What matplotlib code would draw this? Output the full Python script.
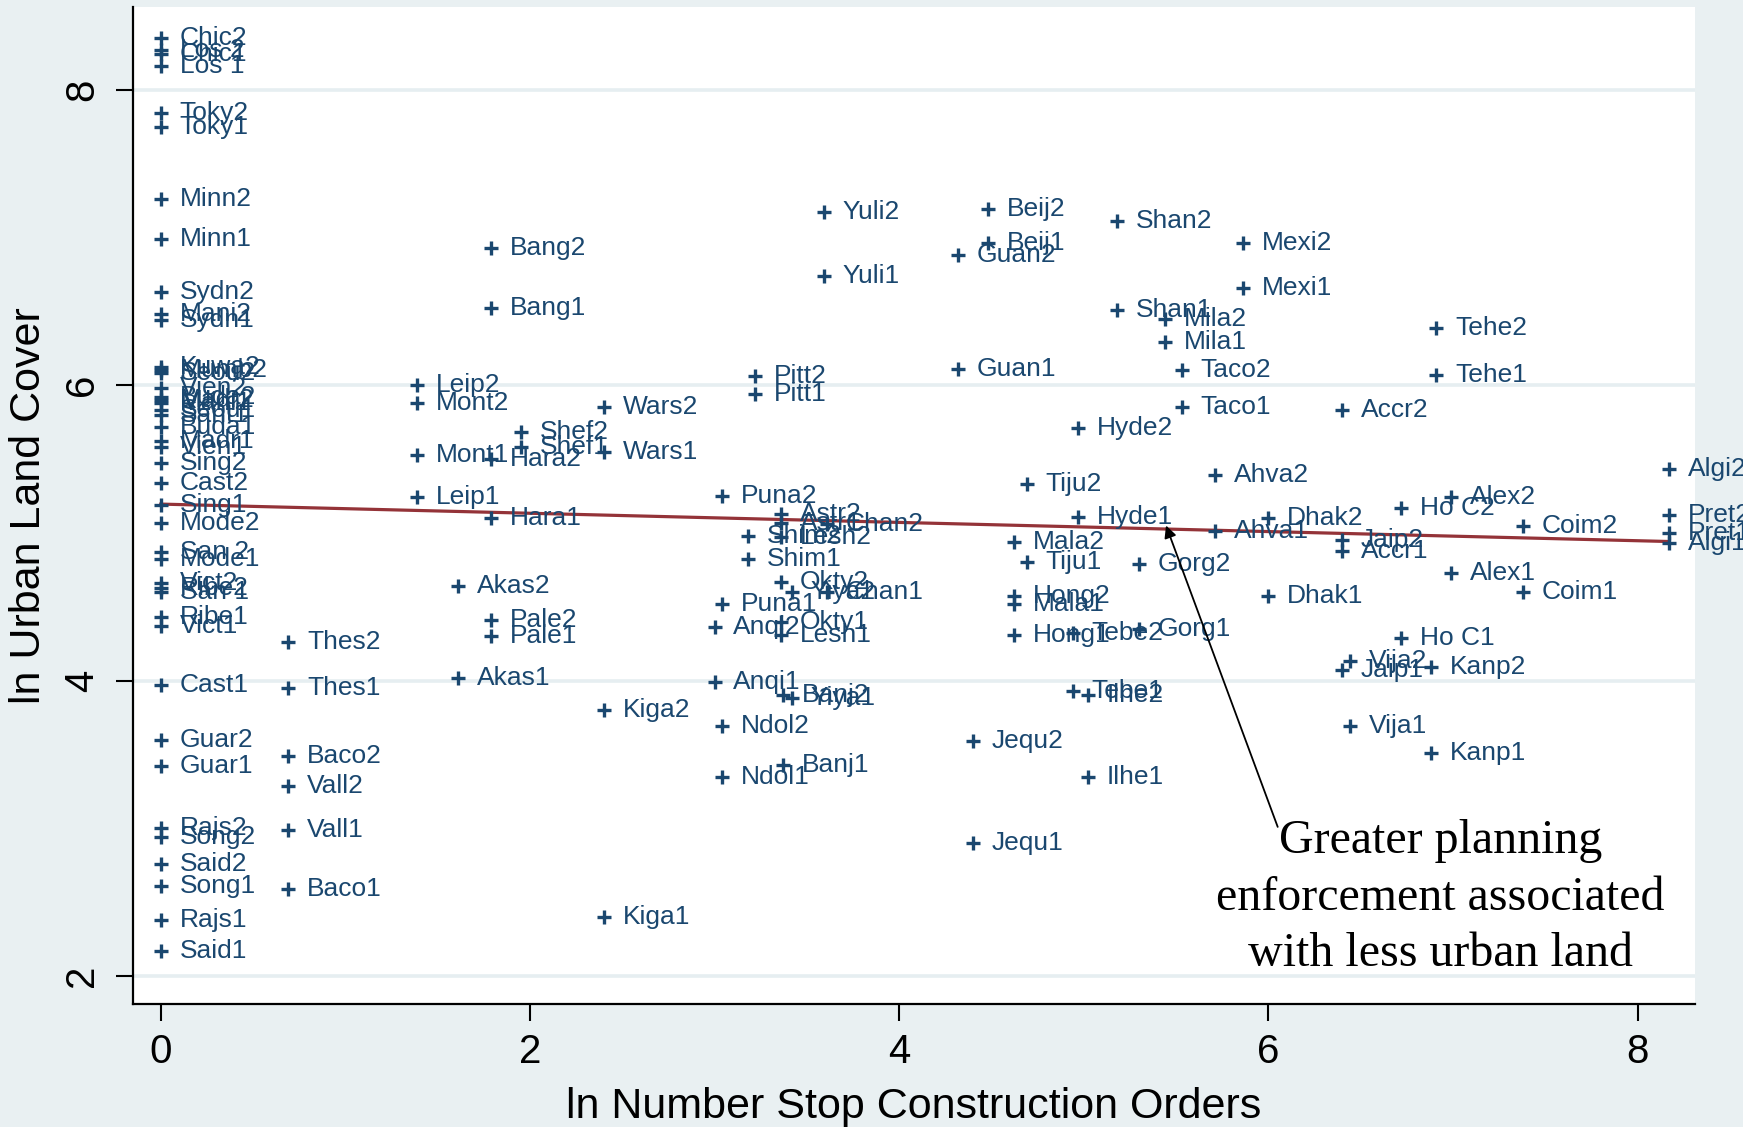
import matplotlib
matplotlib.use("Agg")
import matplotlib.pyplot as plt
from matplotlib.patches import Rectangle

# city-period labels, ln(stop construction orders), ln(urban land cover)
labels = [
    "Chic2", "Los 2", "Chic1", "Los 1", "Toky2", "Toky1", "Minn2", "Minn1",
    "Sydn2", "Mani2", "Sydn1", "Kuwa2", "Mumb2", "Seou2", "Vien2", "Buda2",
    "Madr2", "Mani1", "Seou1", "Sant1", "Buda1", "Madr1", "Vien1", "Sing2",
    "Cast2", "Sing1", "Mode2", "San 2", "Mode1", "Vict2", "Ribe2", "San 1",
    "Ribe1", "Vict1", "Cast1", "Guar2", "Guar1", "Rajs2", "Song2", "Said2",
    "Song1", "Rajs1", "Said1",
    "Thes2", "Thes1", "Baco2", "Vall2", "Vall1", "Baco1",
    "Leip2", "Mont2", "Mont1", "Leip1", "Akas2", "Akas1",
    "Bang2", "Bang1", "Hara2", "Hara1", "Pale2", "Pale1", "Shef2", "Shef1",
    "Wars2", "Wars1", "Kiga2", "Kiga1", "Anqi2", "Anqi1",
    "Puna2", "Puna1", "Ndol2", "Ndol1", "Shim2", "Shim1", "Pitt2", "Pitt1",
    "Astr2", "Astr1", "Lesh2", "Lesh1", "Okty2", "Okty1", "Banj2", "Banj1",
    "Yiya2", "Yiya1", "Chan2", "Chan1", "Yuli2", "Yuli1",
    "Guan2", "Guan1", "Jequ2", "Jequ1", "Beij2", "Beij1",
    "Mala2", "Mala1", "Hong2", "Hong1", "Tiju2", "Tiju1", "Hyde2", "Hyde1",
    "Tebe2", "Tebe1", "Ilhe2", "Ilhe1", "Shan2", "Shan1", "Gorg2", "Gorg1",
    "Mila2", "Mila1", "Taco2", "Taco1", "Ahva2", "Ahva1", "Mexi2", "Mexi1",
    "Dhak2", "Dhak1", "Accr2", "Accr1", "Jaip2", "Jaip1", "Vija2", "Vija1",
    "Ho C2", "Ho C1", "Kanp2", "Kanp1", "Tehe2", "Tehe1", "Alex2", "Alex1",
    "Coim2", "Coim1", "Algi2", "Algi1", "Pret2", "Pret1",
]

ln_orders = [
    0, 0, 0, 0, 0, 0, 0, 0,
    0, 0, 0, 0, 0, 0, 0, 0,
    0, 0, 0, 0, 0, 0, 0, 0,
    0, 0, 0, 0, 0, 0, 0, 0,
    0, 0, 0, 0, 0, 0, 0, 0,
    0, 0, 0,
    0.69, 0.69, 0.69, 0.69, 0.69, 0.69,
    1.39, 1.39, 1.39, 1.39, 1.61, 1.61,
    1.79, 1.79, 1.79, 1.79, 1.79, 1.79, 1.95, 1.95,
    2.40, 2.40, 2.40, 2.40, 3.00, 3.00,
    3.04, 3.04, 3.04, 3.04, 3.18, 3.18, 3.22, 3.22,
    3.36, 3.36, 3.36, 3.36, 3.36, 3.36, 3.37, 3.37,
    3.42, 3.42, 3.61, 3.61, 3.59, 3.59,
    4.32, 4.32, 4.40, 4.40, 4.48, 4.48,
    4.62, 4.62, 4.62, 4.62, 4.69, 4.69, 4.97, 4.97,
    4.94, 4.94, 5.02, 5.02, 5.18, 5.18, 5.30, 5.30,
    5.44, 5.44, 5.53, 5.53, 5.71, 5.71, 5.86, 5.86,
    6.00, 6.00, 6.40, 6.40, 6.40, 6.40, 6.44, 6.44,
    6.72, 6.72, 6.88, 6.88, 6.91, 6.91, 6.99, 6.99,
    7.38, 7.38, 8.17, 8.17, 8.17, 8.17,
]

ln_cover = [
    8.35, 8.27, 8.24, 8.16, 7.84, 7.75, 7.26, 6.99,
    6.63, 6.48, 6.44, 6.12, 6.10, 6.08, 5.98, 5.92,
    5.90, 5.88, 5.83, 5.80, 5.72, 5.62, 5.58, 5.47,
    5.34, 5.19, 5.07, 4.87, 4.82, 4.66, 4.63, 4.60,
    4.43, 4.37, 3.97, 3.60, 3.42, 3.00, 2.94, 2.76,
    2.61, 2.38, 2.17,
    4.26, 3.95, 3.49, 3.29, 2.99, 2.59,
    6.00, 5.88, 5.53, 5.24, 4.64, 4.02,
    6.93, 6.52, 5.50, 5.10, 4.41, 4.30, 5.68, 5.58,
    5.85, 5.55, 3.80, 2.40, 4.36, 3.99,
    5.25, 4.52, 3.69, 3.35, 4.98, 4.82, 6.06, 5.94,
    5.13, 5.07, 4.97, 4.31, 4.67, 4.40, 3.90, 3.43,
    4.60, 3.88, 5.06, 4.60, 7.17, 6.74,
    6.88, 6.11, 3.59, 2.90, 7.19, 6.96,
    4.94, 4.52, 4.57, 4.31, 5.33, 4.80, 5.71, 5.11,
    4.32, 3.93, 3.90, 3.35, 7.11, 6.51, 4.79, 4.35,
    6.45, 6.29, 6.10, 5.85, 5.39, 5.01, 6.96, 6.66,
    5.10, 4.57, 5.83, 4.88, 4.95, 4.07, 4.13, 3.69,
    5.17, 4.29, 4.09, 3.51, 6.39, 6.07, 5.24, 4.73,
    5.05, 4.60, 5.43, 4.93, 5.12, 5.00,
]

# linear fit of ln urban land cover on ln stop orders
fit_intercept = 5.195
fit_slope = -0.031
fit_range = [0, 8.17]

note = "Greater planning\nenforcement associated\nwith less urban land"

navy = "#1a476f"
bg = "#e9f0f2"

fig = plt.figure(figsize=(17.63, 11.27), dpi=100, facecolor=bg)
ax = fig.add_axes([0.0753, 0.109, 0.8864, 0.8848])
ax.set_facecolor("white")

ax.scatter(ln_orders, ln_cover, marker="+", s=110, linewidths=2.4,
           color=navy, zorder=3)
for lab, x, y in zip(labels, ln_orders, ln_cover):
    ax.annotate(lab, (x, y), xytext=(13.5, 0), textcoords="offset points",
                ha="left", va="center", fontsize=19, color=navy,
                family="Liberation Sans", zorder=4, annotation_clip=False)

fx = fit_range
fy = [fit_intercept + fit_slope * v for v in fx]
ax.plot(fx, fy, color="#943338", lw=2.3, zorder=2)

ax.annotate("", xy=(5.445, 5.05), xytext=(6.05, 3.01),
            arrowprops=dict(arrowstyle="-|>", color="black", lw=1.3,
                            mutation_scale=18, shrinkA=0, shrinkB=0),
            zorder=5)
ax.text(6.93, 3.06, note, ha="center", va="top", fontsize=34.5,
        family="Liberation Serif", linespacing=1.36, zorder=5)

ax.set_xlim(-0.152, 8.313)
ax.set_ylim(1.81, 8.56)
ax.set_xticks([0, 2, 4, 6, 8])
ax.set_yticks([2, 4, 6, 8])
ax.yaxis.grid(True, color="#e6eef1", lw=2.6)
ax.set_axisbelow(True)
for side in ["top", "right"]:
    ax.spines[side].set_visible(False)
for side in ["left", "bottom"]:
    ax.spines[side].set_linewidth(1.6)
ax.tick_params(axis="both", length=12, width=1.5, labelsize=29, direction="out")
ax.tick_params(axis="x", pad=9)
ax.tick_params(axis="y", pad=11)
for t in ax.get_yticklabels():
    t.set_rotation(90)
    t.set_va("center")
for t in ax.get_xticklabels() + ax.get_yticklabels():
    t.set_family("Liberation Sans")

ax.set_xlabel("ln Number Stop Construction Orders", fontsize=31,
              family="Liberation Sans", labelpad=11)
ax.set_ylabel("ln Urban Land Cover", fontsize=31,
              family="Liberation Sans", labelpad=10)

# white strip along the right edge of the page
fig.add_artist(Rectangle((0.9887, 0), 0.0113, 1, transform=fig.transFigure,
                         facecolor="white", edgecolor="none", zorder=20))

fig.savefig("out.png", dpi=100, facecolor=bg)
